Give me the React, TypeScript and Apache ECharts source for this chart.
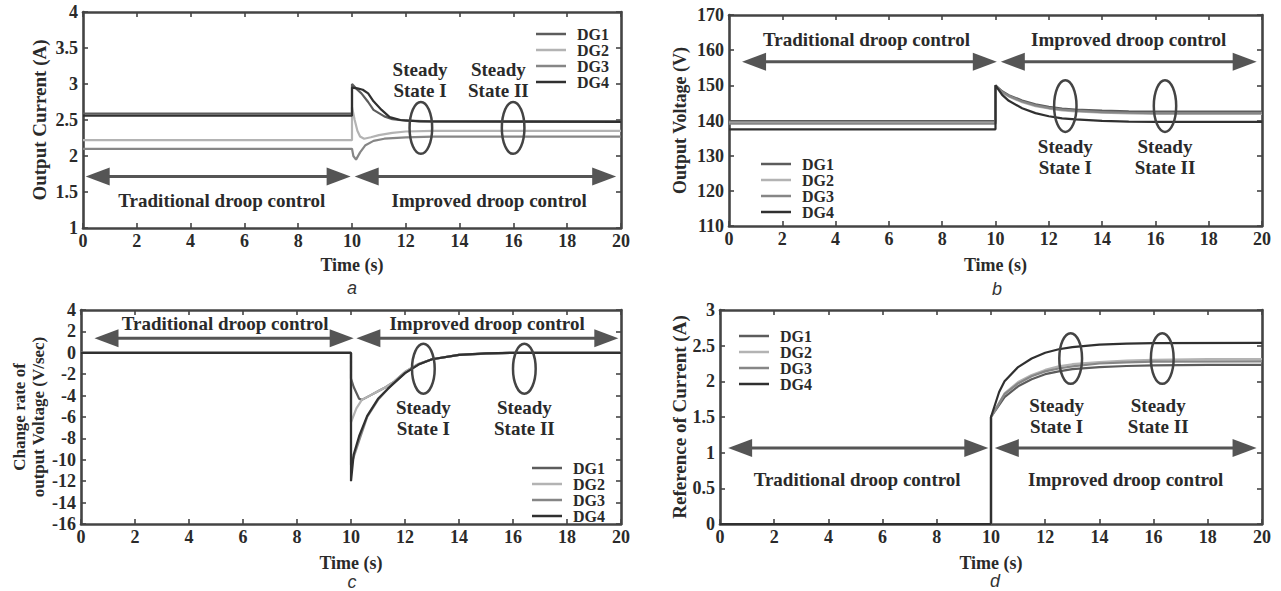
import React, { useEffect, useRef } from 'react';
import * as echarts from 'echarts';

// ---------- Data ----------
const seriesNames = ['DG1', 'DG2', 'DG3', 'DG4'];
const seriesColors = ['#5c5c5c', '#b3b3b3', '#868686', '#303030'];

// (a) Output current (A)  [time s, value]
const currentDG1 = [[0, 2.59], [10, 2.59], [10, 3.0], [10.2, 2.92], [10.35, 2.87], [10.6, 2.75], [10.8, 2.64], [11.2, 2.55], [11.5, 2.51], [12, 2.49], [13, 2.48], [20, 2.48]];
const currentDG2 = [[0, 2.22], [10, 2.22], [10, 2.68], [10.1, 2.5], [10.2, 2.35], [10.3, 2.27], [10.45, 2.24], [10.7, 2.26], [11, 2.29], [11.5, 2.32], [12, 2.34], [13, 2.35], [20, 2.35]];
const currentDG3 = [[0, 2.1], [10, 2.1], [10.05, 2.0], [10.15, 1.95], [10.3, 2.05], [10.5, 2.15], [10.8, 2.21], [11.2, 2.24], [12, 2.26], [13, 2.27], [20, 2.27]];
const currentDG4 = [[0, 2.56], [10, 2.56], [10, 2.95], [10.2, 2.94], [10.4, 2.92], [10.6, 2.87], [10.8, 2.76], [11.1, 2.64], [11.4, 2.54], [11.8, 2.5], [12.5, 2.48], [20, 2.475]];

// (b) Output voltage (V)
const voltageDG1 = [[0, 139.8], [10, 139.8], [10, 150], [10.25, 148.3], [10.5, 147.2], [11, 145.7], [11.5, 144.6], [12, 143.9], [12.5, 143.4], [13, 143.1], [14, 142.8], [15, 142.6], [16, 142.5], [20, 142.5]];
const voltageDG2 = [[0, 139.4], [10, 139.4], [10, 149.6], [10.25, 147.9], [10.5, 146.8], [11, 145.2], [11.5, 144.1], [12, 143.4], [12.5, 142.9], [13, 142.6], [14, 142.2], [15, 142.0], [16, 141.9], [20, 141.9]];
const voltageDG3 = [[0, 139.1], [10, 139.1], [10, 149.8], [10.25, 148.1], [10.5, 147.0], [11, 145.4], [11.5, 144.3], [12, 143.6], [12.5, 143.1], [13, 142.8], [14, 142.4], [15, 142.2], [16, 142.1], [20, 142.1]];
const voltageDG4 = [[0, 137.5], [10, 137.5], [10, 150], [10.25, 147.3], [10.5, 145.6], [11, 143.5], [11.5, 142.1], [12, 141.2], [12.5, 140.6], [13, 140.3], [14, 139.9], [15, 139.7], [16, 139.6], [20, 139.6]];

// (c) Change rate of output voltage (V/sec)
const rateDG1 = [[0, 0], [10, 0], [10, -2.4], [10.1, -3.2], [10.3, -4.3], [10.4, -4.4], [10.7, -4.0], [11, -3.6], [11.3, -3.2], [11.6, -2.7], [12, -1.8], [12.5, -1.05], [13, -0.6], [14, -0.2], [15, -0.07], [16, 0], [20, 0]];
const rateDG2 = [[0, 0], [10, 0], [10, -6.5], [10.2, -5.2], [10.4, -4.4], [10.7, -4.0], [11, -3.6], [11.3, -3.2], [11.6, -2.7], [12, -1.8], [12.5, -1.05], [13, -0.6], [14, -0.2], [15, -0.07], [16, 0], [20, 0]];
const rateDG3 = [[0, 0], [10, 0], [10, -10.5], [10.3, -8.2], [10.6, -6.0], [11, -4.4], [11.5, -3.0], [12, -1.9], [12.5, -1.1], [13, -0.6], [14, -0.2], [15, -0.06], [16, 0], [20, 0]];
const rateDG4 = [[0, 0], [10, 0], [10, -12], [10.1, -9.5], [10.3, -7.8], [10.6, -5.9], [11, -4.3], [11.35, -3.4], [12, -1.9], [12.5, -1.1], [13, -0.6], [14, -0.2], [15, -0.06], [16, 0], [20, 0]];

// (d) Reference of current (A)
const refDG1 = [[0, 0], [10, 0], [10, 1.5], [10.5, 1.78], [11, 1.93], [11.5, 2.03], [12, 2.1], [12.5, 2.14], [13, 2.17], [14, 2.2], [15, 2.215], [16, 2.225], [18, 2.23], [20, 2.23]];
const refDG2 = [[0, 0], [10, 0], [10, 1.5], [10.5, 1.83], [11, 1.99], [11.5, 2.09], [12, 2.16], [12.5, 2.21], [13, 2.24], [14, 2.27], [15, 2.29], [16, 2.3], [18, 2.31], [20, 2.31]];
const refDG3 = [[0, 0], [10, 0], [10, 1.5], [10.5, 1.82], [11, 1.97], [11.5, 2.07], [12, 2.14], [12.5, 2.18], [13, 2.21], [14, 2.25], [15, 2.265], [16, 2.275], [20, 2.28]];
const refDG4 = [[0, 0], [10, 0], [10, 1.5], [10.3, 1.85], [10.5, 2.0], [11, 2.2], [11.5, 2.32], [12, 2.4], [12.5, 2.45], [13, 2.48], [14, 2.515], [15, 2.53], [16, 2.535], [20, 2.54]];

// Axis ranges [min, max, interval]
const timeAxis = [0, 20, 2];
const axisA = [1, 4, 0.5];
const axisB = [110, 170, 10];
const axisC = [-16, 4, 2];
const axisD = [0, 3, 0.5];

// Annotations
const modeLabels = ['Traditional droop control', 'Improved droop control', 'Steady\nState I', 'Steady\nState II'];
const labelPosA = [[5.16, 1.38], [15.1, 1.38], [12.53, 3.06], [15.44, 3.06]];
const labelPosB = [[5.16, 162.9], [15.0, 162.9], [12.62, 129.5], [16.36, 129.5]];
const labelPosC = [[5.34, 2.76], [15.04, 2.76], [12.68, -6.08], [16.42, -6.08]];
const labelPosD = [[5.06, 0.62], [14.97, 0.62], [12.42, 1.52], [16.17, 1.52]];

// ellipses: [t, value, radius t, radius value]
const ellipsesA = [[12.56, 2.39, 0.42, 0.36], [15.99, 2.39, 0.42, 0.36]];
const ellipsesB = [[12.62, 144.1, 0.42, 7.35], [16.36, 144.1, 0.42, 7.35]];
const ellipsesC = [[12.68, -1.49, 0.42, 2.33], [16.42, -1.49, 0.42, 2.33]];
const ellipsesD = [[12.94, 2.32, 0.42, 0.355], [16.32, 2.32, 0.42, 0.355]];

// arrows: [tip start t, tip end t, value]
const arrowsA = [[0.1, 9.95, 1.715], [10.1, 19.82, 1.715]];
const arrowsB = [[0.49, 10.05, 156.7], [10.2, 19.8, 156.7]];
const arrowsC = [[0.5, 10.1, 1.36], [10.2, 19.9, 1.36]];
const arrowsD = [[0.3, 9.9, 1.064], [10.14, 19.8, 1.064]];

const yNames = ['Output Current (A)', 'Output Voltage (V)', 'Change rate of\noutput Voltage (V/sec)', 'Reference of Current (A)'];
const captions = ['a', 'b', 'c', 'd'];

// ---------- Styling / layout ----------
const SERIF = "'Liberation Serif', 'DejaVu Serif', 'Times New Roman', serif";
const FRAME = '#444';
const TEXT = '#2a2a2a';

const grids = [
  { left: 83, top: 12, width: 538, height: 216 },
  { left: 729, top: 15, width: 533, height: 211 },
  { left: 81, top: 310, width: 540, height: 214 },
  { left: 720, top: 310, width: 542, height: 214 },
];
const yNameGap = [34, 40, 29, 31];
const yNameSize = [19, 18, 17, 19];
const xNameGap = [28, 30, 30, 30];
const legendPos = [
  { left: 531, top: 21 },
  { left: 756, top: 151 },
  { left: 527, top: 455 },
  { left: 734, top: 323 },
];
const captionPos = [[352, 288], [997, 289], [352, 582], [995, 581]];

const panelData = [
  [currentDG1, currentDG2, currentDG3, currentDG4],
  [voltageDG1, voltageDG2, voltageDG3, voltageDG4],
  [rateDG1, rateDG2, rateDG3, rateDG4],
  [refDG1, refDG2, refDG3, refDG4],
];
const panelAxes = [axisA, axisB, axisC, axisD];
const panelLabels = [labelPosA, labelPosB, labelPosC, labelPosD];
const panelEllipses = [ellipsesA, ellipsesB, ellipsesC, ellipsesD];
const panelArrows = [arrowsA, arrowsB, arrowsC, arrowsD];

const axisLine = { show: true, onZero: false, lineStyle: { color: FRAME, width: 2.6 } };
const axisTick = { show: true, inside: true, length: 5, lineStyle: { color: FRAME, width: 1.6 } };
const labelStyle = { fontFamily: SERIF, fontWeight: 'bold' as const, fontSize: 18, color: TEXT };

function buildOption() {
  const xAxis: any[] = [];
  const yAxis: any[] = [];
  const series: any[] = [];
  const legend: any[] = [];

  grids.forEach((g, i) => {
    const [ymin, ymax, yint] = panelAxes[i];
    xAxis.push({
      type: 'value', gridIndex: i, position: 'bottom', min: timeAxis[0], max: timeAxis[1], interval: timeAxis[2],
      name: 'Time (s)', nameLocation: 'middle', nameGap: xNameGap[i], nameTextStyle: { ...labelStyle },
      axisLine, axisTick, splitLine: { show: false },
      axisLabel: { ...labelStyle, margin: 4 },
    });
    xAxis.push({
      type: 'value', gridIndex: i, position: 'top', min: timeAxis[0], max: timeAxis[1], interval: timeAxis[2],
      axisLine, axisTick, splitLine: { show: false }, axisLabel: { show: false },
    });
    yAxis.push({
      type: 'value', gridIndex: i, position: 'left', min: ymin, max: ymax, interval: yint,
      name: yNames[i], nameLocation: 'middle', nameGap: yNameGap[i],
      nameTextStyle: { ...labelStyle, fontSize: yNameSize[i], lineHeight: 19 },
      axisLine, axisTick, splitLine: { show: false },
      axisLabel: { ...labelStyle, margin: 5 },
    });
    yAxis.push({
      type: 'value', gridIndex: i, position: 'right', min: ymin, max: ymax, interval: yint,
      axisLine, axisTick, splitLine: { show: false }, axisLabel: { show: false },
    });

    panelData[i].forEach((d, k) => {
      series.push({
        type: 'line', name: seriesNames[k], data: d, xAxisIndex: 2 * i, yAxisIndex: 2 * i,
        symbol: 'none', showSymbol: false, lineStyle: { color: seriesColors[k], width: 2.2 },
        itemStyle: { color: seriesColors[k] }, z: 3 + k,
      });
    });

    const labels = modeLabels;
    series.push({
      type: 'custom', xAxisIndex: 2 * i, yAxisIndex: 2 * i, clip: false, silent: true, z: 10,
      data: panelLabels[i], encode: { x: 0, y: 1 },
      renderItem: (params: any, api: any) => {
        const p = api.coord([api.value(0), api.value(1)]);
        return {
          type: 'text', x: p[0], y: p[1],
          style: {
            text: labels[params.dataIndex], textAlign: 'center', textVerticalAlign: 'middle',
            align: 'center', verticalAlign: 'middle', fill: TEXT,
            font: `bold 19px ${SERIF}`, lineHeight: 21,
          },
        };
      },
    });
    series.push({
      type: 'custom', xAxisIndex: 2 * i, yAxisIndex: 2 * i, clip: false, silent: true, z: 10,
      data: panelEllipses[i], encode: { x: 0, y: 1 },
      renderItem: (params: any, api: any) => {
        const c = api.coord([api.value(0), api.value(1)]);
        const s = api.size([api.value(2), api.value(3)]);
        return {
          type: 'ellipse', shape: { cx: c[0], cy: c[1], rx: s[0], ry: s[1] },
          style: { fill: 'none', stroke: FRAME, lineWidth: 2.5 },
        };
      },
    });
    series.push({
      type: 'custom', xAxisIndex: 2 * i, yAxisIndex: 2 * i, clip: false, silent: true, z: 10,
      data: panelArrows[i], encode: { x: [0, 1], y: 2 },
      renderItem: (params: any, api: any) => {
        const a = api.coord([api.value(0), api.value(2)]);
        const b = api.coord([api.value(1), api.value(2)]);
        const L = 24, W = 9;
        return {
          type: 'group',
          children: [
            { type: 'line', shape: { x1: a[0] + L - 2, y1: a[1], x2: b[0] - L + 2, y2: b[1] }, style: { stroke: '#555', lineWidth: 3 } },
            { type: 'polygon', shape: { points: [[a[0], a[1]], [a[0] + L, a[1] - W], [a[0] + L, a[1] + W]] }, style: { fill: '#555' } },
            { type: 'polygon', shape: { points: [[b[0], b[1]], [b[0] - L, b[1] - W], [b[0] - L, b[1] + W]] }, style: { fill: '#555' } },
          ],
        };
      },
    });

    legend.push({
      orient: 'vertical', left: legendPos[i].left, top: legendPos[i].top,
      data: seriesNames.map((n) => ({ name: n, icon: 'rect' })),
      itemWidth: 30, itemHeight: 2.5, itemGap: 0, selectedMode: false,
      textStyle: { ...labelStyle, fontSize: 16, lineHeight: 16, padding: [0, 0, 0, 6] },
    });
  });

  const graphic = captions.map((c, i) => ({
    type: 'text', x: captionPos[i][0], y: captionPos[i][1],
    style: {
      text: c, textAlign: 'center', textVerticalAlign: 'middle', align: 'center', verticalAlign: 'middle',
      fill: '#333', font: "italic 18px 'Liberation Sans', Arial, sans-serif",
    },
  }));

  return {
    animation: false,
    backgroundColor: '#ffffff',
    grid: grids.map((g) => ({ ...g, show: false })),
    xAxis, yAxis, series, legend, graphic,
  };
}

export default function App() {
  const ref = useRef<HTMLDivElement>(null);
  useEffect(() => {
    if (!ref.current) return;
    const chart = echarts.init(ref.current, undefined, { renderer: 'svg' });
    chart.setOption(buildOption() as any);
    return () => chart.dispose();
  }, []);
  return (
    <div
      ref={ref}
      style={{ position: 'absolute', left: 0, top: 0, width: 1281, height: 591, background: '#fff' }}
    />
  );
}
